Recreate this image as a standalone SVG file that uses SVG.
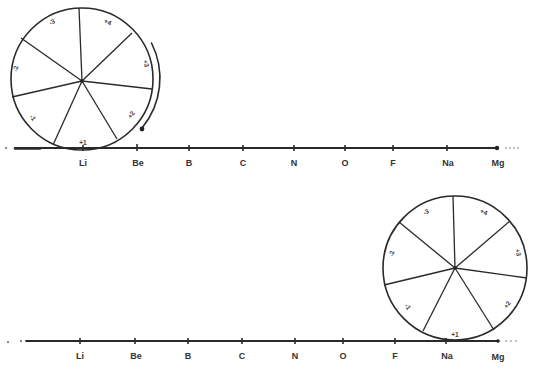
<svg xmlns="http://www.w3.org/2000/svg" width="533" height="369" viewBox="0 0 533 369">
<style>
.ln{stroke:#2a2a2a;fill:none;stroke-linecap:round}
.rim{stroke:#2a2a2a;fill:none;stroke-width:1.6}
.sp{stroke:#2a2a2a;stroke-width:1.3}
.tk{stroke:#2a2a2a;stroke-width:1.6}
.el{font-family:"Liberation Sans",Arial,sans-serif;font-size:9px;font-weight:bold;fill:#333;text-anchor:middle}
.wl{font-family:"Liberation Sans",Arial,sans-serif;font-size:6.5px;font-weight:bold;fill:#444;text-anchor:middle}
</style>
<rect width="533" height="369" fill="#fff"/>
<g id="connectors">
  <!-- top axis -->
  <circle cx="6" cy="148" r="0.9" fill="#555"/>
  <line class="ln" x1="15" y1="148" x2="497" y2="148" stroke-width="1.8"/>
  <line class="ln" x1="15" y1="148.5" x2="40" y2="148.5" stroke-width="2.6"/>
  <g fill="#777"><circle cx="506" cy="148" r="0.8"/><circle cx="510" cy="148" r="0.8"/><circle cx="514" cy="148" r="0.8"/><circle cx="518" cy="148" r="0.8"/></g>
  <g class="tk">
    <line x1="83" y1="145" x2="83" y2="151"/><line x1="137" y1="144" x2="137" y2="151"/>
    <line x1="189" y1="145" x2="189" y2="151"/><line x1="243" y1="145" x2="243" y2="151"/>
    <line x1="294" y1="145" x2="294" y2="151"/><line x1="345" y1="145" x2="345" y2="151"/>
    <line x1="393" y1="145" x2="393" y2="151"/><line x1="447" y1="145" x2="447" y2="151"/>
  </g>
  <circle cx="497" cy="148" r="2.2" fill="#222"/>
  <!-- bottom axis -->
  <circle cx="8" cy="342" r="0.9" fill="#555"/><circle cx="21" cy="341" r="0.9" fill="#555"/>
  <line class="ln" x1="26" y1="341" x2="498" y2="341" stroke-width="1.8"/>
  <g fill="#777"><circle cx="506" cy="341" r="0.8"/><circle cx="511" cy="341" r="0.8"/><circle cx="516" cy="341" r="0.8"/></g>
  <g class="tk">
    <line x1="80" y1="338" x2="80" y2="344"/><line x1="135" y1="338" x2="135" y2="344"/>
    <line x1="188" y1="338" x2="188" y2="344"/><line x1="242" y1="338" x2="242" y2="344"/>
    <line x1="295" y1="338" x2="295" y2="344"/><line x1="343" y1="338" x2="343" y2="344"/>
    <line x1="395" y1="338" x2="395" y2="344"/><line x1="446" y1="338" x2="446" y2="344"/>
  </g>
  <circle cx="498" cy="341" r="1.8" fill="#222"/>
  <!-- rolling arrow -->
  <path class="ln" d="M151.5,43 A78,78 0 0 1 142,128" stroke-width="1.6"/>
  <circle cx="142" cy="129" r="2.4" fill="#222"/>
</g>
<g id="wheel-top">
  <circle class="rim" cx="82" cy="79" r="71"/>
  <g class="sp">
    <line x1="82" y1="81" x2="79" y2="8"/><line x1="82" y1="81" x2="132" y2="33"/>
    <line x1="82" y1="81" x2="152" y2="89"/><line x1="82" y1="81" x2="117" y2="139"/>
    <line x1="82" y1="81" x2="53" y2="145"/><line x1="82" y1="81" x2="12" y2="97"/>
    <line x1="82" y1="81" x2="21" y2="38"/>
  </g>
  <circle cx="82" cy="81" r="1.8" fill="#222"/>
  <text class="wl" transform="translate(53,24) rotate(-27)">-3</text>
  <text class="wl" transform="translate(107,24) rotate(24)">+4</text>
  <text class="wl" transform="translate(144,64) rotate(76)">+3</text>
  <text class="wl" transform="translate(133,116) rotate(-55)">+2</text>
  <text class="wl" x="83" y="145">+1</text>
  <text class="wl" transform="translate(31,119) rotate(53)">-1</text>
  <text class="wl" transform="translate(18,69) rotate(-80)">-2</text>
</g>
<g id="wheel-bottom">
  <circle class="rim" cx="455" cy="268" r="72"/>
  <g class="sp">
    <line x1="455" y1="268" x2="453" y2="196"/><line x1="455" y1="268" x2="510" y2="221"/>
    <line x1="455" y1="268" x2="527" y2="278"/><line x1="455" y1="268" x2="494" y2="330"/>
    <line x1="455" y1="268" x2="423" y2="331"/><line x1="455" y1="268" x2="384" y2="285"/>
    <line x1="455" y1="268" x2="399" y2="222"/>
  </g>
  <circle cx="455" cy="268" r="1.8" fill="#222"/>
  <text class="wl" transform="translate(427,214) rotate(-27)">-3</text>
  <text class="wl" transform="translate(483,214) rotate(24)">+4</text>
  <text class="wl" transform="translate(516,253) rotate(76)">+3</text>
  <text class="wl" transform="translate(509,306) rotate(-55)">+2</text>
  <text class="wl" x="455" y="337">+1</text>
  <text class="wl" transform="translate(406,308) rotate(53)">-1</text>
  <text class="wl" transform="translate(394,254) rotate(-80)">-2</text>
</g>
<g id="labels-top">
  <text class="el" x="83" y="166">Li</text><text class="el" x="138" y="166">Be</text>
  <text class="el" x="189" y="166">B</text><text class="el" x="243" y="166">C</text>
  <text class="el" x="294" y="166">N</text><text class="el" x="345" y="166">O</text>
  <text class="el" x="393" y="166">F</text><text class="el" x="448" y="166">Na</text>
  <text class="el" x="498" y="166">Mg</text>
</g>
<g id="labels-bottom">
  <text class="el" x="80" y="359">Li</text><text class="el" x="136" y="359">Be</text>
  <text class="el" x="188" y="359">B</text><text class="el" x="242" y="359">C</text>
  <text class="el" x="295" y="359">N</text><text class="el" x="343" y="359">O</text>
  <text class="el" x="395" y="359">F</text><text class="el" x="447" y="359">Na</text>
  <text class="el" x="498" y="360">Mg</text>
</g>
</svg>
